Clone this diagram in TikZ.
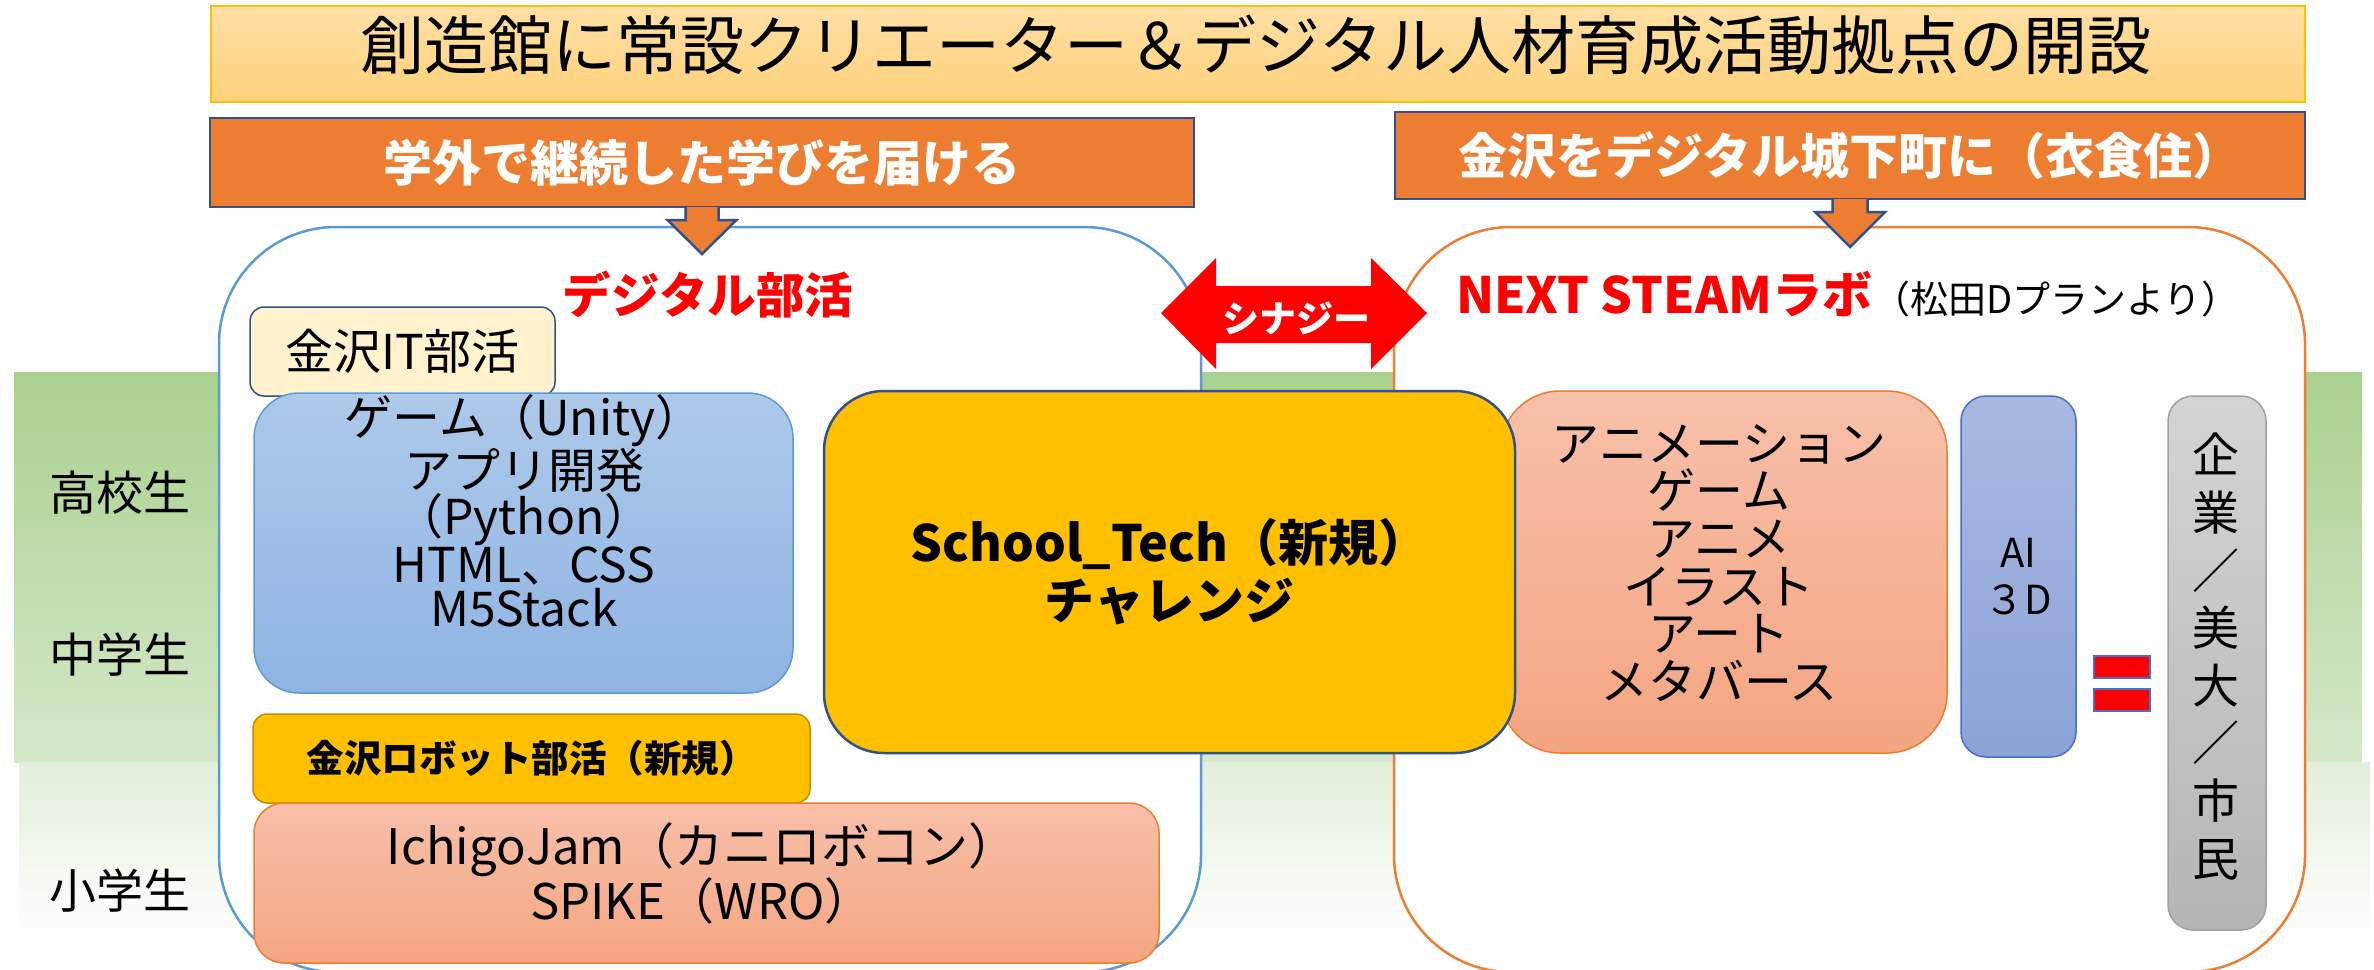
\documentclass[tikz,border=0pt]{standalone}
\usepackage{fontspec}
\setmainfont{Noto Sans CJK JP}
\usetikzlibrary{calc}
\definecolor{orgA}{HTML}{ED7D31}
\definecolor{dkblue}{HTML}{2F528F}
\definecolor{bluL}{HTML}{5B9BD5}
\definecolor{bluD}{HTML}{4472C4}
\definecolor{gold}{HTML}{FFC000}
\definecolor{gld}{HTML}{FFC000}
\definecolor{gldD}{HTML}{BF9000}
\definecolor{ttlA}{HTML}{FFDFA3}
\definecolor{ttlB}{HTML}{FFD27C}
\definecolor{itFill}{HTML}{FFF2CC}
\definecolor{bluA}{HTML}{ADC9EA}
\definecolor{bluB}{HTML}{8EB4E3}
\definecolor{salA}{HTML}{F7C0A9}
\definecolor{salB}{HTML}{F4A581}
\definecolor{aiA}{HTML}{A9B9E1}
\definecolor{aiB}{HTML}{8BA3D8}
\definecolor{gryA}{HTML}{D4D4D4}
\definecolor{gryB}{HTML}{B5B5B5}
\definecolor{gryD}{HTML}{A0A0A0}
\definecolor{grnA}{HTML}{A9D18E}
\definecolor{grnB}{HTML}{D5E8C9}
\definecolor{grnC}{HTML}{E2EFDA}
\newcommand\fsz[2]{\fontsize{#1}{#2}\selectfont}
\begin{document}
\begin{tikzpicture}[x=1pt,y=-1pt,
  bx/.style={inner sep=0pt,outer sep=0pt,line width=1.5pt,align=center},
  lbl/.style={inner sep=0pt,outer sep=0pt,align=center},
  bigbox/.style={bx,fill=white,line width=2.5pt,rounded corners=117pt,minimum height=745pt},
  banner/.style={bx,fill=orgA,draw=dkblue,line width=2.5pt,text=white,font=\bfseries\fsz{49}{49}},
  blockarrow/.style={fill=orgA,draw=dkblue,line width=2.5pt,line join=miter},
  salbox/.style={bx,draw=orgA,top color=salA,bottom color=salB},
  eqbar/.style={bx,draw=bluD,fill=red,line width=2pt,minimum width=56pt,minimum height=22pt},
  level/.style={lbl,font=\fsz{47}{47}}]
\useasboundingbox (0,0) rectangle (2374,969);
\clip (0,0) rectangle (2374,969);
\fill[white] (0,0) rectangle (2374,969);
% green bands
\fill[top color=grnA,bottom color=grnB] (14,372) rectangle (2362,762);
\fill[top color=grnC,bottom color=white] (19,762) rectangle (2370,940);
% title
\node[bx,draw=gold,top color=ttlA,bottom color=ttlB,minimum width=2094pt,minimum height=96pt] (title) at (1258,54) {};
\node[lbl,font=\fsz{64}{64}] (titletext) at (1256,45) {創造館に常設クリエーター＆デジタル人材育成活動拠点の開設};
% big boxes
\node[bigbox,draw=bluL,minimum width=982pt] (lbox) at (710,599.5) {};
\node[bigbox,draw=orgA,minimum width=911pt] (rbox) at (1849.5,599.5) {};
% banners
\node[banner,minimum width=984pt,minimum height=89pt] (lban) at (702,162.5) {学外で継続した学びを届ける};
\node[banner,minimum width=910pt,minimum height=87pt] (rban) at (1850,155.5) {金沢をデジタル城下町に（衣食住）};
\filldraw[blockarrow] ($(lban.south)+(-16.5,0)$) -- ++(0,13) -- ++(-18,0) -- ($(lban.south)+(0,47)$) -- ($(lban.south)+(34.5,13)$) -- ++(-18,0) -- ++(0,-13);
\filldraw[blockarrow] ($(rban.south)+(-17.5,0)$) -- ++(0,13) -- ++(-17.5,0) -- ($(rban.south)+(0,48)$) -- ($(rban.south)+(35,13)$) -- ++(-17.5,0) -- ++(0,-13);
% headers
\node[lbl,text=red,font=\bfseries\fsz{48.5}{48.5}] (dtitle) at (708,295) {デジタル部活};
\node[lbl,anchor=base west] (ntitle) at (1456,313) {{\color{red}\bfseries\fsz{50}{50}NEXT STEAMラボ}{\fsz{38}{38}（松田Dプランより）}};
% synergy arrow
\fill[red] (1161,313) -- (1216,258) -- (1216,286) -- (1371,286) -- (1371,258) -- (1427,313) -- (1371,369) -- (1371,343) -- (1216,343) -- (1216,369) -- cycle;
\node[lbl,text=white,font=\bfseries\fsz{37}{37}] (syn) at (1296,318) {シナジー};
% level labels
\node[level] (hs) at (120,493) {高校生};
\node[level] (ms) at (120,655) {中学生};
\node[level] (es) at (120,891) {小学生};
% left inner boxes
\node[bx,draw=dkblue,fill=itFill,rounded corners=14pt,minimum width=305pt,minimum height=89pt,font=\fsz{48}{48}] (it) at (402.5,351.5) {金沢IT部活};
\node[bx,draw=bluL,top color=bluA,bottom color=bluB,rounded corners=45pt,minimum width=539pt,minimum height=300pt] (blue) at (523.5,543) {};
\node[lbl,font=\fsz{48}{44}] (bluetext) at (524,511) {ゲーム（Unity）\\アプリ開発\\（Python）\\HTML、CSS\\M5Stack};
\node[bx,draw=gldD,fill=gld,rounded corners=14pt,minimum width=557pt,minimum height=89pt,font=\bfseries\fsz{37.5}{37.5}] (robot) at (531.5,758.5) {金沢ロボット部活（新規）};
\node[salbox,rounded corners=30pt,minimum width=905pt,minimum height=160pt] (ichigo) at (706.5,883) {};
\node[lbl,font=\fsz{49}{45}] (ichigotext) at (702,873) {IchigoJam（カニロボコン）\\SPIKE（WRO）};
% right inner boxes
\node[salbox,rounded corners=60pt,minimum width=447pt,minimum height=362pt] (anim) at (1723.5,572) {};
\node[lbl,font=\fsz{48}{47.6}] (animtext) at (1719,563) {アニメーション\\ゲーム\\アニメ\\イラスト\\アート\\メタバース};
\node[bx,draw=dkblue,fill=gld,line width=2.5pt,rounded corners=60pt,minimum width=691pt,minimum height=362pt,font=\bfseries\fsz{50}{58}] (school) at (1169.5,572) {School\_Tech（新規）\\チャレンジ};
\node[bx,draw=bluD,top color=aiA,bottom color=aiB,rounded corners=25pt,minimum width=115pt,minimum height=361pt,font=\fsz{40}{47}] (ai) at (2018.5,576.5) {AI\\３D};
\node[eqbar] (eqa) at (2122,667) {};
\node[eqbar] (eqb) at (2122,699.5) {};
\node[bx,draw=gryD,top color=gryA,bottom color=gryB,rounded corners=25pt,minimum width=98pt,minimum height=534pt] (gray) at (2217,663) {};
\node[lbl,font=\fsz{47}{57.6}] (graytext) at (2216,656.5) {企\\業\\／\\美\\大\\／\\市\\民};
\end{tikzpicture}
\end{document}
